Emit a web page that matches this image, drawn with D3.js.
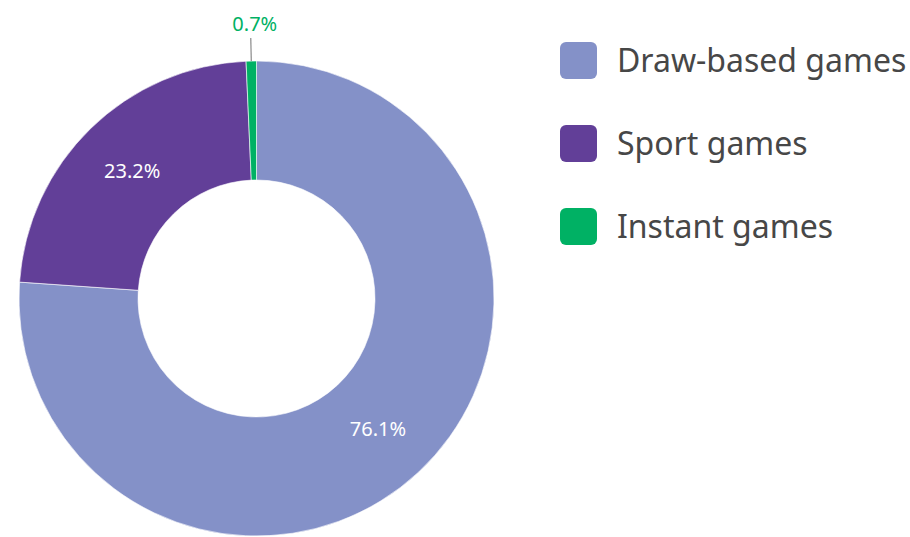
<!DOCTYPE html>
<html>
<head>
<meta charset="utf-8">
<script src="https://cdn.jsdelivr.net/npm/d3@7"></script>
<style>
  body { margin: 0; background: #fff; }
  svg text { font-family: "Noto Sans", sans-serif; }
</style>
</head>
<body>
<svg id="chart" width="910" height="537"></svg>
<script>
// chart data
const categories = ["Draw-based games", "Sport games", "Instant games"];
const shares = [76.1, 23.2, 0.7];
const labels = ["76.1%", "23.2%", "0.7%"];
const colors = ["#8491c8", "#623f98", "#00b164"];

function drawDonut() {
  const svg = d3.select("svg#chart");
  const cx = 256.5, cy = 298.5;
  const outerR = 237.5, innerR = 118.5;

  const pie = d3.pie().sort(null).value(d => d.value);
  const arcs = pie(categories.map((c, i) => ({ name: c, value: shares[i], label: labels[i], color: colors[i] })));

  const arc = d3.arc().innerRadius(innerR).outerRadius(outerR);

  const g = svg.append("g").attr("transform", "translate(" + cx + "," + cy + ")");

  g.selectAll(".slice")
    .data(arcs)
    .enter().append("path")
    .attr("class", "slice")
    .attr("d", arc)
    .attr("fill", d => d.data.color)
    .attr("stroke", "#ffffff")
    .attr("stroke-width", 0.6);

  // labels inside the big slices, leader line for the tiny one
  arcs.forEach(d => {
    const mid = (d.startAngle + d.endAngle) / 2;
    if (d.endAngle - d.startAngle > 0.3) {
      const c = arc.centroid(d);
      g.append("text")
        .attr("x", c[0])
        .attr("y", c[1])
        .attr("dy", "0.35em")
        .attr("text-anchor", "middle")
        .style("font-size", "20px")
        .style("fill", "#ffffff")
        .text(d.data.label);
    } else {
      const r1 = outerR, r2 = outerR + 23;
      g.append("line")
        .attr("x1", Math.sin(mid) * r1)
        .attr("y1", -Math.cos(mid) * r1)
        .attr("x2", Math.sin(mid) * r2)
        .attr("y2", -Math.cos(mid) * r2)
        .attr("stroke", "#8a8a8a")
        .attr("stroke-width", 1.2);
      g.append("text")
        .attr("x", Math.sin(mid) * r2 + 4)
        .attr("y", -Math.cos(mid) * r2 - 7)
        .attr("text-anchor", "middle")
        .style("font-size", "20px")
        .style("fill", d.data.color)
        .text(d.data.label);
    }
  });

  // legend
  const legend = svg.append("g").attr("transform", "translate(560,42)");
  const items = legend.selectAll(".item")
    .data(arcs)
    .enter().append("g")
    .attr("class", "item")
    .attr("transform", (d, i) => "translate(0," + (i * 83) + ")");

  items.append("rect")
    .attr("width", 37)
    .attr("height", 37)
    .attr("rx", 6)
    .attr("fill", d => d.data.color);

  items.append("text")
    .attr("x", 57)
    .attr("y", 19)
    .attr("dy", "0.35em")
    .style("font-size", "32px")
    .style("fill", "#474747")
    .text(d => d.data.name);
}

drawDonut();
</script>
</body>
</html>
